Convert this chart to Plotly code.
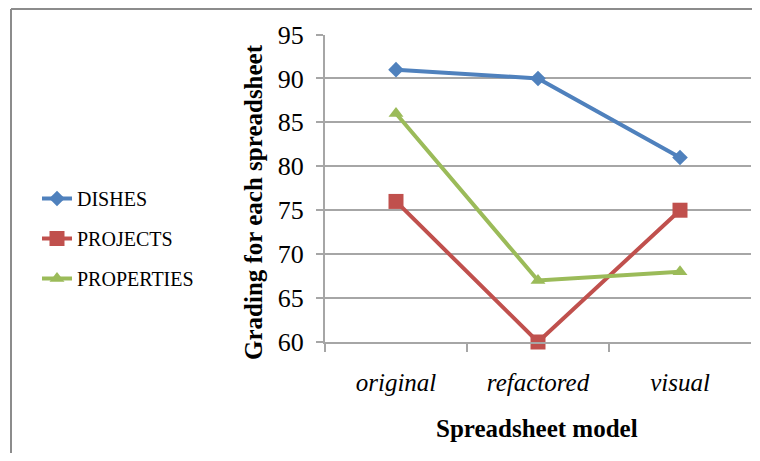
import plotly.graph_objects as go

categories = ["original", "refactored", "visual"]
dishes = [91, 90, 81]
projects = [76, 60, 75]
properties = [86, 67, 68]
y_ticks = [60, 65, 70, 75, 80, 85, 90, 95]

OFF = 8  # page body margin offset
W, H = 760 - 2 * OFF, 461 - 2 * OFF
L, R, T, B = 325 - OFF, 751 - OFF, 34.5 - OFF, 342 - OFF

series = [
    ("DISHES", dishes, "#4F81BD", "diamond", 12),
    ("PROJECTS", projects, "#C0504D", "square", 15),
    ("PROPERTIES", properties, "#9BBB59", "triangle-up", 13),
]

fig = go.Figure()
for i, (name, vals, color, sym, sz) in enumerate(series):
    fig.add_trace(go.Scatter(
        x=categories, y=vals, name=name, mode="lines+markers",
        line=dict(color=color, width=4),
        marker=dict(symbol=sym, size=sz, color=color),
        legendgroup=f"g{i}",
        cliponaxis=False,
    ))

grid = "#A6A6A6"
border = dict(color="#8C8C8C", width=2)
bx, by = (11 - OFF) / W, 1 - (9 - OFF) / H
fig.update_layout(
    width=W, height=H,
    margin=dict(l=0, r=0, t=0, b=0, autoexpand=False),
    paper_bgcolor="white", plot_bgcolor="white",
    font=dict(family="Liberation Serif", color="black"),
    showlegend=True,
    legend=dict(
        x=29 / W, y=1 - 171 / H, xanchor="left", yanchor="top",
        font=dict(family="Liberation Serif", size=20, color="black"),
        traceorder="grouped", tracegroupgap=11,
        bgcolor="rgba(0,0,0,0)",
    ),
    xaxis=dict(
        domain=[L / W, min(R / W, 1.0)],
        type="category", range=[-0.5, 2.5],
        tickson="boundaries", ticks="outside", ticklen=8, tickcolor=grid, tickwidth=2,
        showline=True, linecolor=grid, linewidth=2,
        showgrid=False, zeroline=False,
        tickfont=dict(family="Liberation Serif", size=25, style="italic", color="black"),
        ticklabelstandoff=17,
    ),
    yaxis=dict(
        domain=[1 - B / H, 1 - T / H],
        range=[60, 95], tickvals=y_ticks, ticktext=[str(v) for v in y_ticks],
        ticks="outside", ticklen=7, tickcolor=grid, tickwidth=2,
        showline=True, linecolor=grid, linewidth=2,
        showgrid=True, gridcolor=grid, gridwidth=2,
        zeroline=False,
        tickfont=dict(family="Liberation Serif", size=26, color="black"),
        ticklabelstandoff=7,
    ),
    shapes=[
        dict(type="line", xref="paper", yref="paper",
             x0=bx, x1=bx, y0=by, y1=-0.1, line=border, layer="below"),
        dict(type="line", xref="paper", yref="paper",
             x0=bx, x1=1.1, y0=by, y1=by, line=border, layer="below"),
    ],
    annotations=[
        dict(text="<b>Grading for each spreadsheet</b>", xref="paper", yref="paper",
             x=(253 - OFF) / W, y=1 - (202 - OFF) / H, xanchor="center", yanchor="middle",
             textangle=-90, showarrow=False,
             font=dict(family="Liberation Serif", size=25, color="black")),
        dict(text="<b>Spreadsheet model</b>", xref="paper", yref="paper",
             x=(537 - OFF) / W, y=1 - (428 - OFF) / H, xanchor="center", yanchor="middle",
             showarrow=False,
             font=dict(family="Liberation Serif", size=25, color="black")),
    ],
)

fig.write_html("out.html")
